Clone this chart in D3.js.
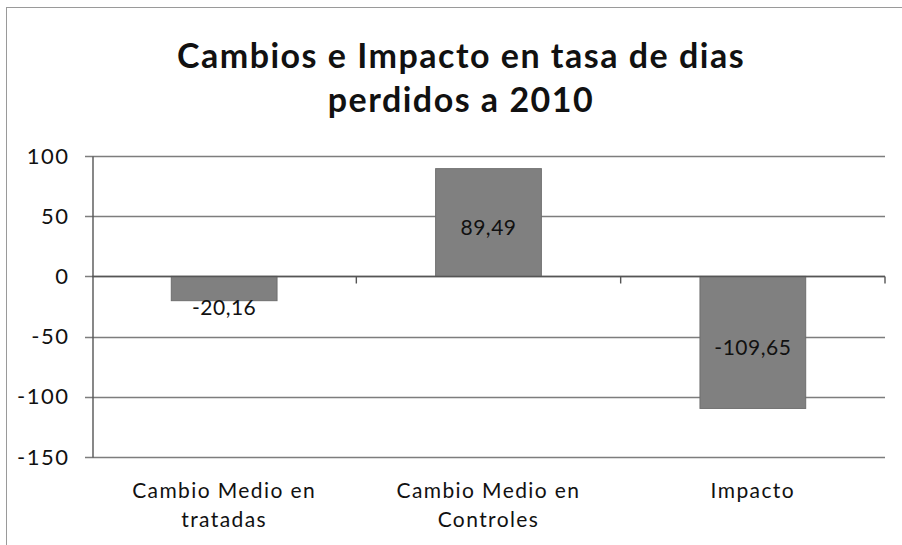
<!DOCTYPE html>
<html>
<head>
<meta charset="utf-8">
<script src="https://cdn.jsdelivr.net/npm/d3@7/dist/d3.min.js"></script>
<style>
  html, body { margin: 0; padding: 0; background: #fff; }
  svg { display: block; }
</style>
</head>
<body>
<svg id="chart" width="902" height="545"></svg>
<script>
// Chart data
const titleLines = ["Cambios e Impacto en tasa de dias", "perdidos a 2010"];
const categories = [["Cambio Medio en", "tratadas"], ["Cambio Medio en", "Controles"], ["Impacto"]];
const values = [-20.16, 89.49, -109.65];
const yTicks = [100, 50, 0, -50, -100, -150];

const W = 902, H = 545;
const margin = { left: 92, right: 17, top: 156, bottom: 88 };
const fontFam = "Lato, 'Open Sans', sans-serif";

const svg = d3.select("#chart");

// Outer chart frame
svg.append("rect")
  .attr("x", 6.5).attr("y", 7.5)
  .attr("width", W).attr("height", H)
  .attr("fill", "#fff").attr("stroke", "#9a9a9a").attr("stroke-width", 1);

// Title
const title = svg.append("text")
  .attr("text-anchor", "middle")
  .attr("font-family", fontFam)
  .attr("font-weight", "bold")
  .attr("font-size", 34)
  .attr("letter-spacing", 1.5)
  .attr("fill", "#111");
titleLines.forEach((t, i) => {
  title.append("tspan").attr("x", 461).attr("y", 68 + i * 44).text(t);
});

const x = d3.scaleBand()
  .domain(d3.range(categories.length))
  .range([margin.left, W - margin.right])
  .paddingInner(0.6)
  .paddingOuter(0.3);

const y = d3.scaleLinear()
  .domain([-150, 100])
  .range([H - margin.bottom, margin.top]);

const x0 = margin.left, x1 = W - margin.right;

// Horizontal gridlines
svg.append("g")
  .selectAll("line")
  .data(yTicks)
  .join("line")
  .attr("x1", x0 - 7).attr("x2", x1)
  .attr("y1", d => Math.round(y(d)) + 0.5)
  .attr("y2", d => Math.round(y(d)) + 0.5)
  .attr("stroke", "#7d7d7d")
  .attr("stroke-width", 1.4);

// Y axis
const yAxis = d3.axisLeft(y)
  .tickValues(yTicks)
  .tickFormat(d => String(d))
  .tickSize(0)
  .tickPadding(23);
const gy = svg.append("g")
  .attr("transform", `translate(${x0 + 0.5},0)`)
  .call(yAxis);
gy.select(".domain").attr("stroke", "#555").attr("stroke-width", 1.4);
gy.selectAll("text")
  .attr("font-family", fontFam)
  .attr("font-size", 22)
  .attr("letter-spacing", 1.5)
  .attr("fill", "#111");

// Bars
svg.append("g")
  .selectAll("rect")
  .data(values)
  .join("rect")
  .attr("x", (d, i) => x(i))
  .attr("width", x.bandwidth())
  .attr("y", d => y(Math.max(0, d)))
  .attr("height", d => Math.abs(y(d) - y(0)))
  .attr("fill", "#808080")
  .attr("stroke", "#6e6e6e")
  .attr("stroke-width", 1);

// Zero line with category boundary ticks
const zeroY = Math.round(y(0)) + 0.5;
svg.append("line")
  .attr("x1", x0).attr("x2", x1)
  .attr("y1", zeroY).attr("y2", zeroY)
  .attr("stroke", "#555").attr("stroke-width", 1.4);
const step = (x1 - x0) / categories.length;
svg.append("g")
  .selectAll("line")
  .data(d3.range(1, categories.length + 1))
  .join("line")
  .attr("x1", d => x0 + d * step).attr("x2", d => x0 + d * step)
  .attr("y1", zeroY).attr("y2", zeroY + 7)
  .attr("stroke", "#555").attr("stroke-width", 1.4);

// Value labels (centred in the bar; short bars push the label past the end)
const fmt = v => v.toFixed(2).replace(".", ",");
svg.append("g")
  .selectAll("text")
  .data(values)
  .join("text")
  .attr("x", (d, i) => x(i) + x.bandwidth() / 2)
  .attr("y", d => {
    const h = Math.abs(y(d) - y(0));
    if (h < 40) return y(d) + 7;
    return (y(d) + y(0)) / 2 + 5;
  })
  .attr("dy", "0.35em")
  .attr("text-anchor", "middle")
  .attr("font-family", fontFam)
  .attr("font-size", 21)
  .attr("letter-spacing", 0.5)
  .attr("fill", "#111")
  .text(fmt);

// Category labels
const cat = svg.append("g")
  .selectAll("text")
  .data(categories)
  .join("text")
  .attr("text-anchor", "middle")
  .attr("font-family", fontFam)
  .attr("font-size", 21)
  .attr("letter-spacing", 1.4)
  .attr("fill", "#111");
cat.each(function(lines, i) {
  const t = d3.select(this);
  lines.forEach((s, j) => {
    t.append("tspan")
      .attr("x", x(i) + x.bandwidth() / 2)
      .attr("y", 498 + j * 29)
      .text(s);
  });
});
</script>
</body>
</html>
